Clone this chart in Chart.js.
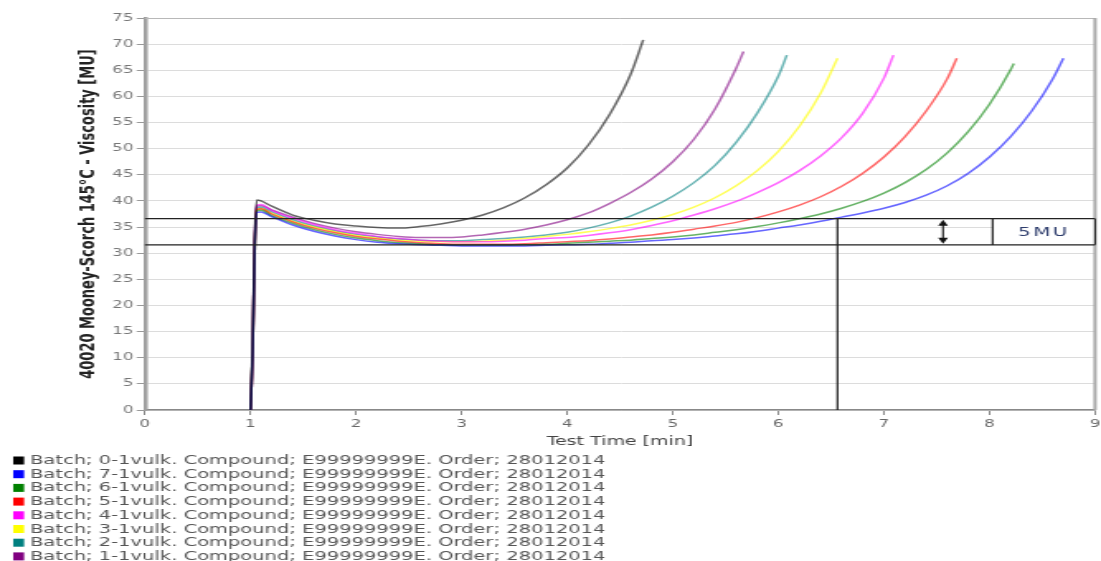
<!DOCTYPE html>
<html>
<head>
<meta charset="utf-8">
<title>Mooney Scorch</title>
<script src="https://cdn.jsdelivr.net/npm/chart.js@4.4.1/dist/chart.umd.min.js"></script>
<style>
  html, body { margin: 0; padding: 0; background: #fff; }
  #scorchChart { display: block; }
</style>
</head>
<body>
<!-- the source picture is stretched sideways: draw narrow, widen with css -->
<canvas id="scorchChart" width="667" height="561" style="width:1101px;height:561px"></canvas>
<script>
const batchLabels = [
    'Batch; 0-1vulk. Compound; E99999999E. Order; 28012014',
    'Batch; 7-1vulk. Compound; E99999999E. Order; 28012014',
    'Batch; 6-1vulk. Compound; E99999999E. Order; 28012014',
    'Batch; 5-1vulk. Compound; E99999999E. Order; 28012014',
    'Batch; 4-1vulk. Compound; E99999999E. Order; 28012014',
    'Batch; 3-1vulk. Compound; E99999999E. Order; 28012014',
    'Batch; 2-1vulk. Compound; E99999999E. Order; 28012014',
    'Batch; 1-1vulk. Compound; E99999999E. Order; 28012014'
];

// test time [min] shared by all curves, each curve stops at its own end point
const timeGrid = [1.0, 1.02, 1.04, 1.06, 1.1, 1.2, 1.4, 1.6, 1.8, 2.0, 2.2, 2.4, 2.6, 2.8, 3.0,
    3.2, 3.4, 3.6, 3.8, 4.0, 4.2, 4.4, 4.6, 4.8, 5.0, 5.2, 5.4, 5.6, 5.8, 6.0, 6.2, 6.4, 6.6,
    6.8, 7.0, 7.2, 7.4, 7.6, 7.8, 8.0, 8.2, 8.4, 8.6];

// viscosity [MU]
const viscBatch0 = [0, 12, 33, 40.2, 40.0, 39.0, 37.3, 36.3, 35.6, 35.2, 34.9, 34.8, 35.1, 35.6, 36.3,
    37.3, 38.7, 40.6, 43.1, 46.3, 50.7, 56.5, 64.2];
const viscBatch7 = [0, 11, 31, 37.8, 37.9, 37.0, 35.4, 34.2, 33.3, 32.6, 32.1, 31.8, 31.6, 31.5, 31.4,
    31.4, 31.4, 31.4, 31.5, 31.6, 31.7, 31.9, 32.1, 32.4, 32.6, 32.9, 33.3, 33.7, 34.2, 34.8,
    35.4, 36.1, 36.9, 37.7, 38.6, 39.7, 41.1, 42.9, 45.3, 48.4, 52.3, 57.2, 63.4];
const viscBatch6 = [0, 11, 31, 38.1, 38.2, 37.2, 35.7, 34.5, 33.6, 32.9, 32.4, 32.0, 31.8, 31.6, 31.5,
    31.5, 31.5, 31.6, 31.7, 31.9, 32.1, 32.3, 32.5, 32.8, 33.1, 33.5, 34.0, 34.5, 35.1, 35.8,
    36.6, 37.5, 38.6, 39.9, 41.5, 43.5, 46.0, 49.2, 53.3, 58.5, 65.1];
const viscBatch5 = [0, 11, 31, 38.4, 38.5, 37.5, 36.0, 34.8, 33.9, 33.2, 32.7, 32.3, 32.0, 31.8, 31.7,
    31.7, 31.7, 31.8, 32.0, 32.2, 32.4, 32.7, 33.1, 33.5, 34.0, 34.6, 35.2, 35.9, 36.8, 37.9,
    39.2, 40.8, 42.8, 45.3, 48.4, 52.3, 57.2, 63.4];
const viscBatch4 = [0, 11, 32, 39.2, 39.3, 38.2, 36.7, 35.5, 34.5, 33.8, 33.2, 32.8, 32.5, 32.3, 32.2,
    32.2, 32.3, 32.5, 32.8, 33.0, 33.4, 33.9, 34.5, 35.3, 36.2, 37.3, 38.5, 39.9, 41.6, 43.5,
    45.8, 48.6, 52.1, 56.8, 63.5];
const viscBatch3 = [0, 11, 31, 38.4, 38.5, 37.6, 36.1, 35.0, 34.1, 33.4, 32.9, 32.5, 32.3, 32.2, 32.2,
    32.3, 32.5, 32.8, 33.2, 33.6, 34.1, 34.7, 35.4, 36.3, 37.4, 38.8, 40.6, 42.9, 45.8, 49.5,
    54.3, 60.6];
const viscBatch2 = [0, 11, 31, 38.7, 38.8, 37.9, 36.4, 35.2, 34.3, 33.6, 33.1, 32.7, 32.5, 32.4, 32.4,
    32.6, 32.8, 33.1, 33.5, 34.0, 34.8, 35.8, 37.1, 38.8, 40.9, 43.5, 46.8, 51.2, 56.8, 63.9];
const viscBatch1 = [0, 11, 32, 39.0, 39.1, 38.3, 36.9, 35.7, 34.8, 34.1, 33.6, 33.2, 33.0, 33.0, 33.1,
    33.5, 34.0, 34.6, 35.4, 36.4, 37.7, 39.5, 41.6, 44.2, 47.5, 51.8, 57.6, 65.4];

// last point of every curve, in legend order
const endTime = [4.72, 8.70, 8.23, 7.69, 7.09, 6.56, 6.08, 5.67];
const endVisc = [70.8, 67.3, 66.3, 67.3, 67.9, 67.3, 67.9, 68.6];

// scorch evaluation: minimum + 5 MU
const minVisc = 31.6;
const scorchRise = 5;
const scorchTime = 6.56;
const boxFrom = 8.03;
const arrowAt = 7.56;

const swatchColors = ['#000000', '#0000ff', '#008000', '#ff0000', '#ff00ff', '#ffff00', '#008080', '#800080'];
const lineColors = [
    'rgba(0,0,0,0.6)', 'rgba(0,0,255,0.6)', 'rgba(0,128,0,0.6)', 'rgba(255,0,0,0.6)',
    'rgba(255,0,255,0.6)', 'rgba(255,255,0,0.65)', 'rgba(0,128,128,0.6)', 'rgba(128,0,128,0.6)'
];

const viscByBatch = [viscBatch0, viscBatch7, viscBatch6, viscBatch5, viscBatch4, viscBatch3, viscBatch2, viscBatch1];

const datasets = viscByBatch.map((visc, i) => {
    const points = visc.map((v, j) => ({ x: timeGrid[j], y: v }));
    points.push({ x: endTime[i], y: endVisc[i] });
    return {
        label: batchLabels[i],
        data: points,
        borderColor: lineColors[i],
        backgroundColor: swatchColors[i],
        borderWidth: 1.5,
        pointRadius: 0,
        cubicInterpolationMode: 'monotone',
        fill: false
    };
});

// frame, 5 MU lines, box and arrow
const scorchMarks = {
    id: 'scorchMarks',
    afterDatasetsDraw(chart) {
        const { ctx, chartArea: a, scales: { x, y } } = chart;
        const yLow = y.getPixelForValue(minVisc);
        const yHigh = y.getPixelForValue(minVisc + scorchRise);
        const xTime = x.getPixelForValue(scorchTime);
        const xBox = x.getPixelForValue(boxFrom);
        const xArrow = x.getPixelForValue(arrowAt);

        ctx.save();
        ctx.strokeStyle = '#b8b8b8';
        ctx.lineWidth = 1;
        ctx.beginPath();
        ctx.moveTo(a.left, a.top + 0.5);
        ctx.lineTo(a.right, a.top + 0.5);
        ctx.stroke();
        ctx.strokeStyle = '#a8a8a8';
        ctx.lineWidth = 2;
        ctx.beginPath();
        ctx.moveTo(a.right, a.top);
        ctx.lineTo(a.right, a.bottom);
        ctx.stroke();

        ctx.fillStyle = '#fff';
        ctx.fillRect(xBox, yHigh, a.right - xBox, yLow - yHigh);

        ctx.strokeStyle = '#222';
        ctx.lineWidth = 1.2;
        ctx.beginPath();
        ctx.moveTo(a.left, yHigh); ctx.lineTo(a.right, yHigh);
        ctx.moveTo(a.left, yLow); ctx.lineTo(a.right, yLow);
        ctx.moveTo(xTime, y.getPixelForValue(0)); ctx.lineTo(xTime, yHigh);
        ctx.moveTo(xBox, yHigh); ctx.lineTo(xBox, yLow);
        ctx.moveTo(a.right, yHigh); ctx.lineTo(a.right, yLow);
        ctx.moveTo(xArrow, yHigh + 4); ctx.lineTo(xArrow, yLow - 4);
        ctx.stroke();

        ctx.fillStyle = '#111';
        ctx.beginPath();
        ctx.moveTo(xArrow, yHigh + 1);
        ctx.lineTo(xArrow - 3, yHigh + 7);
        ctx.lineTo(xArrow + 3, yHigh + 7);
        ctx.closePath();
        ctx.moveTo(xArrow, yLow - 1);
        ctx.lineTo(xArrow - 3, yLow - 7);
        ctx.lineTo(xArrow + 3, yLow - 7);
        ctx.closePath();
        ctx.fill();

        ctx.font = '12px "DejaVu Sans"';
        ctx.fillStyle = '#2d3c6c';
        ctx.textAlign = 'center';
        ctx.textBaseline = 'middle';
        ctx.letterSpacing = '1.5px';
        ctx.fillText('5MU', (xBox + a.right) / 2, (yHigh + yLow) / 2 + 1);
        ctx.restore();
    }
};

// one legend row per batch under the axis title
const batchLegend = {
    id: 'batchLegend',
    afterDraw(chart) {
        const { ctx, chartArea: a } = chart;
        ctx.save();
        ctx.font = '11.8px "DejaVu Sans"';
        ctx.textBaseline = 'middle';
        ctx.textAlign = 'left';
        chart.data.datasets.forEach((ds, i) => {
            const rowY = a.bottom + 50.5 + i * 13.7;
            ctx.fillStyle = ds.backgroundColor;
            ctx.fillRect(8, rowY - 4, 6.6, 8);
            ctx.fillStyle = '#555';
            ctx.fillText(ds.label, 18.2, rowY + 0.5);
        });
        ctx.restore();
    }
};

Chart.defaults.font.family = '"DejaVu Sans", sans-serif';

new Chart(document.getElementById('scorchChart'), {
    type: 'line',
    data: { datasets: datasets },
    plugins: [scorchMarks, batchLegend],
    options: {
        responsive: false,
        animation: false,
        layout: { padding: { left: 40, top: 18, right: 0, bottom: 112 } },
        plugins: {
            legend: { display: false },
            tooltip: { enabled: false }
        },
        scales: {
            x: {
                type: 'linear',
                min: 0,
                max: 9,
                ticks: { stepSize: 1, padding: 3, color: '#666', font: { size: 10 } },
                grid: { drawOnChartArea: false, tickLength: 5, tickColor: '#888' },
                border: { color: '#888', width: 1.5 },
                title: {
                    display: true,
                    text: 'Test Time [min]',
                    color: '#444',
                    font: { size: 11.5 },
                    padding: { top: 0, bottom: 0 }
                },
                afterFit(scale) {
                    scale.height = 39;
                    scale.paddingLeft = 0;
                    scale.paddingRight = 3.6;
                }
            },
            y: {
                min: 0,
                max: 75,
                ticks: { stepSize: 5, padding: 2, color: '#777', font: { size: 10 } },
                grid: { color: '#dcdcdc', tickLength: 5, tickColor: '#999' },
                border: { color: '#a0a0a0', width: 2.5 },
                title: {
                    display: true,
                    text: '40020 Mooney-Scorch 145°C - Viscosity [MU]',
                    color: '#222',
                    font: { size: 13, weight: 'bold' },
                    padding: { top: 5.5, bottom: 0 }
                },
                afterFit(scale) {
                    scale.width = 47.8;
                    scale.paddingTop = 0;
                    scale.paddingBottom = 0;
                }
            }
        }
    }
});
</script>
</body>
</html>
